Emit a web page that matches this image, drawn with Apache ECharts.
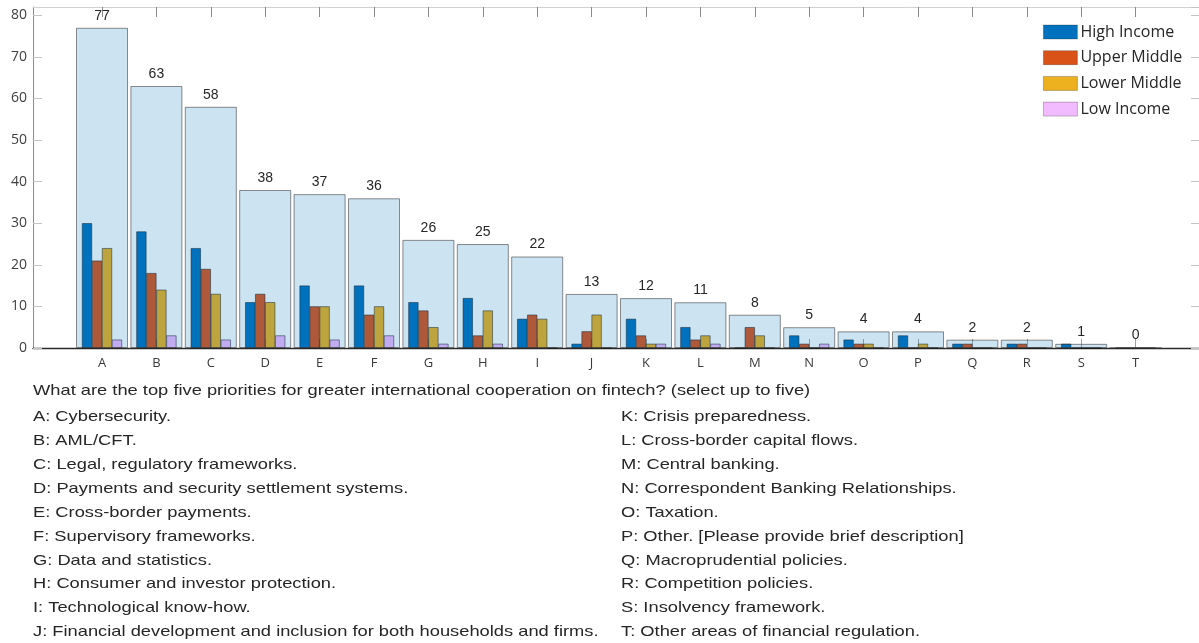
<!DOCTYPE html>
<html>
<head>
<meta charset="utf-8">
<script src="https://cdn.jsdelivr.net/npm/echarts@6/dist/echarts.min.js"></script>
<style>
html,body{margin:0;padding:0;background:#fff;}
#chart{width:1199px;height:643px;}
</style>
</head>
<body>
<div id="chart"></div>
<script>
const categories = ['A','B','C','D','E','F','G','H','I','J','K','L','M','N','O','P','Q','R','S','T'];
const totals      = [77,63,58,38,37,36,26,25,22,13,12,11,8,5,4,4,2,2,1,0];
const highIncome  = [30,28,24,11,15,15,11,12,7,1,7,5,0,3,2,3,1,1,1,0];
const upperMiddle = [21,18,19,13,10,8,9,3,8,4,3,2,5,1,1,0,1,1,0,0];
const lowerMiddle = [24,14,13,11,10,10,5,9,7,8,1,3,3,0,1,1,0,0,0,0];
const lowIncome   = [2,3,2,3,2,3,1,1,0,0,1,1,0,1,0,0,0,0,0,0];
const seriesNames = ['High Income','Upper Middle','Lower Middle','Low Income'];
const yTicks = [0,10,20,30,40,50,60,70,80];
const question = 'What are the top five priorities for greater international cooperation on fintech? (select up to five)';
const defsLeft = [
  'A: Cybersecurity.',
  'B: AML/CFT.',
  'C: Legal, regulatory frameworks.',
  'D: Payments and security settlement systems.',
  'E: Cross-border payments.',
  'F: Supervisory frameworks.',
  'G: Data and statistics.',
  'H: Consumer and investor protection.',
  'I: Technological know-how.',
  'J: Financial development and inclusion for both households and firms.'
];
const defsRight = [
  'K: Crisis preparedness.',
  'L: Cross-border capital flows.',
  'M: Central banking.',
  'N: Correspondent Banking Relationships.',
  'O: Taxation.',
  'P: Other. [Please provide brief description]',
  'Q: Macroprudential policies.',
  'R: Competition policies.',
  'S: Insolvency framework.',
  'T: Other areas of financial regulation.'
];

const colors = ['#0072BD','#D95319','#EDB120','#F2BBFF'];
const seriesData = [highIncome, upperMiddle, lowerMiddle, lowIncome];
const yMax = 82;
const yInterval = yTicks[1] - yTicks[0];

const textFont = '15px "Liberation Sans", Arial, sans-serif';
const stretch = 1.22;
const graphics = [];
function addText(t, x, y) {
  graphics.push({type:'text', x:x, y:y, scaleX:stretch, scaleY:1,
    style:{text:t, font:textFont, fill:'#262626', textVerticalAlign:'middle'}});
}
addText(question, 33, 391);
defsLeft.forEach((t,i)=> addText(t, 33, 417 + i*23.9));
defsRight.forEach((t,i)=> addText(t, 621, 417 + i*23.9));

const series = seriesNames.map((name,i)=>({
  name: name,
  type: 'bar',
  xAxisIndex: 2,
  yAxisIndex: 2,
  data: seriesData[i],
  barWidth: 10,
  barGap: '0%',
  itemStyle: {color: colors[i], borderColor: '#111', borderWidth: 0.5},
  z: 2
}));
series.push({
  name: 'Total',
  type: 'bar',
  xAxisIndex: 3,
  yAxisIndex: 2,
  data: totals,
  barWidth: 52,
  itemStyle: {color: 'rgba(0,114,189,0.2)', borderColor: 'rgba(50,50,50,0.55)', borderWidth: 1},
  label: {show: true, position: 'top', distance: 5, color: '#262626', fontSize: 14, fontFamily: '"Liberation Sans", Arial, sans-serif'},
  z: 3
});

const chart = echarts.init(document.getElementById('chart'), null, {renderer:'canvas'});
chart.setOption({
  animation: false,
  backgroundColor: '#fff',
  grid: [
    {left: 33, right: -2, top: 7, bottom: 295},
    {left: 74.8, right: 36.2, top: 7, bottom: 295}
  ],
  xAxis: [
    {gridIndex:0, type:'value', min:0, max:1, position:'bottom',
     axisLine:{show:true, onZero:false, lineStyle:{color:'#2a2a2a', width:1.4}}, axisTick:{show:false}, axisLabel:{show:false}, splitLine:{show:false}},
    {gridIndex:0, type:'value', min:0, max:1, position:'top',
     axisLine:{show:true, onZero:false, lineStyle:{color:'#d2d2d2', width:1}}, axisTick:{show:false}, axisLabel:{show:false}, splitLine:{show:false}},
    {gridIndex:1, type:'category', data:categories, position:'bottom',
     axisLine:{show:false, onZero:false}, axisTick:{show:true, inside:true, length:9, alignWithLabel:true, lineStyle:{color:'#a0a0a0'}},
     axisLabel:{color:'#3a3a3a', fontSize:13, fontFamily:'"Open Sans", sans-serif', margin:9}, splitLine:{show:false}},
    {gridIndex:1, type:'category', data:categories, position:'top',
     axisLine:{show:false, onZero:false}, axisTick:{show:true, inside:true, length:10, alignWithLabel:true, lineStyle:{color:'#8a8a8a'}},
     axisLabel:{show:false}, splitLine:{show:false}}
  ],
  yAxis: [
    {gridIndex:0, type:'value', min:0, max:yMax, interval:yInterval, position:'left',
     axisLine:{show:true, onZero:false, lineStyle:{color:'#8c8c8c'}},
     axisTick:{show:true, inside:true, length:9, lineStyle:{color:'#c4c4c4'}},
     axisLabel:{color:'#404040', fontSize:14, fontFamily:'"Open Sans", sans-serif', margin:6, showMaxLabel:false},
     splitLine:{show:false}},
    {gridIndex:0, type:'value', min:0, max:yMax, interval:yInterval, position:'right',
     axisLine:{show:true, onZero:false, lineStyle:{color:'#8c8c8c'}},
     axisTick:{show:true, inside:true, length:8, lineStyle:{color:'#c4c4c4'}},
     axisLabel:{show:false}, splitLine:{show:false}},
    {gridIndex:1, type:'value', min:0, max:yMax, show:false}
  ],
  legend: {
    data: seriesNames,
    orient: 'vertical',
    left: 1043,
    top: 24,
    padding: 0,
    icon: 'rect',
    itemWidth: 34,
    itemHeight: 14,
    itemGap: 9.7,
    itemStyle: {borderColor: 'rgba(0,0,0,0.3)', borderWidth: 0.8},
    textStyle: {fontFamily:'"Open Sans", sans-serif', fontSize:16, color:'#262626', lineHeight:16, padding:[0,0,0,-2]}
  },
  graphic: graphics,
  series: series
});
</script>
</body>
</html>
